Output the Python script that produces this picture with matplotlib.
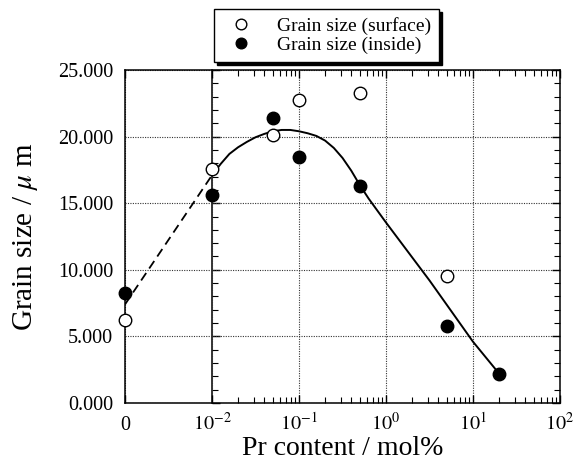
import matplotlib.pyplot as plt
import numpy as np
from matplotlib.ticker import FixedLocator, MultipleLocator, NullFormatter, FormatStrFormatter

plt.rcParams["font.family"] = ["Liberation Serif", "DejaVu Serif"]
plt.rcParams["mathtext.fontset"] = "stix"

# "0" is drawn one decade left of 10^-2 on the log axis
ZERO_POS = 1e-3

# Pr content (mol%) and grain size (um)
pr_surface = [0, 0.01, 0.05, 0.1, 0.5, 5]
size_surface = [6.2, 17.6, 20.1, 22.75, 23.3, 9.5]
pr_inside = [0, 0.01, 0.05, 0.1, 0.5, 5, 20]
size_inside = [8.25, 15.6, 21.4, 18.5, 16.3, 5.75, 2.2]

# dashed guide from 0 to 10^-2
dash_pr = [0, 0.01]
dash_size = [7.4, 17.1]

# solid trend line, given at log10(Pr content)
trend_log_pr = [-2.0, -1.9, -1.8, -1.7, -1.6, -1.5, -1.4, -1.3, -1.2, -1.1, -1.0,
                -0.9, -0.8, -0.7, -0.6, -0.5, -0.4, -0.3, -0.2, -0.1, 0.0,
                0.5, 1.0, 1.301]
trend_size = [17.1, 17.95, 18.7, 19.2, 19.6, 19.95, 20.2, 20.4, 20.5, 20.5, 20.4,
              20.25, 20.05, 19.7, 19.15, 18.4, 17.45, 16.35, 15.35, 14.45, 13.55,
              9.2, 4.6, 2.2]

x_tick_vals = [0, 0.01, 0.1, 1, 10, 100]
x_tick_labels = ["0", r"$10^{-2}$", r"$10^{-1}$", r"$10^{0}$", r"$10^{1}$", r"$10^{2}$"]


def pos(v):
    v = np.asarray(v, dtype=float)
    return np.where(v == 0, ZERO_POS, v)


fig = plt.figure(figsize=(5.75, 4.62), dpi=100)
ax = fig.add_axes([125 / 575, 59 / 462, 435 / 575, 333 / 462])
ax.set_xscale("log")
ax.set_xlim(ZERO_POS, 100)
ax.set_ylim(0, 25)

ax.grid(True, which="major", linestyle=(0, (1, 1.2)), color="0.2", linewidth=0.8)
ax.set_axisbelow(True)

ax.plot(pos(dash_pr), dash_size, color="black", lw=1.3, dashes=(5, 3), zorder=2)
ax.plot(10 ** np.array(trend_log_pr), trend_size, color="black", lw=1.4, zorder=2)

ax.plot(pos(pr_surface), size_surface, "o", ms=9, mfc="white", mec="black", mew=1.0,
        clip_on=False, zorder=4, label="Grain size (surface)")
ax.plot(pos(pr_inside), size_inside, "o", ms=9, mfc="black", mec="black", mew=1.0,
        clip_on=False, zorder=4, label="Grain size (inside)")

# x axis: log ticks, no minor ticks between 0 and 10^-2
ax.xaxis.set_major_locator(FixedLocator(pos(x_tick_vals)))
ax.set_xticklabels(x_tick_labels)
minor = [k * 10.0 ** e for e in range(-2, 2) for k in range(2, 10)]
ax.xaxis.set_minor_locator(FixedLocator(minor))
ax.xaxis.set_minor_formatter(NullFormatter())
ax.tick_params(axis="x", which="both", direction="in", top=True, labelsize=14.5, pad=19.4)
ax.tick_params(axis="x", which="major", length=6, width=1)
ax.tick_params(axis="x", which="minor", length=4, width=0.8)
for lab in ax.get_xticklabels():
    lab.set_verticalalignment("baseline")

# y axis: labels on the left, ticks on the right and on the 10^-2 line
ax.yaxis.set_major_locator(MultipleLocator(5))
ax.yaxis.set_minor_locator(MultipleLocator(1))
ax.yaxis.set_major_formatter(FormatStrFormatter("%.3f"))
ax.tick_params(axis="y", which="both", direction="in", left=False, right=True,
               labelsize=14.5, pad=8.5)
ax.tick_params(axis="y", which="major", length=6, width=1)
ax.tick_params(axis="y", which="minor", length=4, width=0.8)

sec = ax.secondary_yaxis(0.2)
sec.yaxis.set_major_locator(MultipleLocator(5))
sec.yaxis.set_minor_locator(MultipleLocator(1))
sec.tick_params(which="both", direction="in", labelleft=False)
sec.tick_params(which="major", length=6, width=1)
sec.tick_params(which="minor", length=4, width=0.8)
sec.spines["left"].set_linewidth(1.1)

for s in ax.spines.values():
    s.set_linewidth(1.1)

ax.set_xlabel("Pr content / mol%", fontsize=20)
ax.xaxis.set_label_coords(0.5, -0.10)
ax.set_ylabel(r"Grain size / $\mu$ m", fontsize=21)
ax.yaxis.set_label_coords(-0.195, 0.5)

leg = fig.legend(loc="upper left", bbox_to_anchor=(214 / 575, 1 - 9 / 462), fontsize=14,
                 frameon=True, fancybox=False, edgecolor="black", framealpha=1,
                 shadow={"color": "black", "alpha": 1}, borderpad=0.4,
                 handlelength=2.0, handletextpad=0.85, labelspacing=0.1,
                 markerscale=0.85, borderaxespad=0)
leg.get_frame().set_linewidth(1.0)

fig.savefig("out.png", dpi=100)
